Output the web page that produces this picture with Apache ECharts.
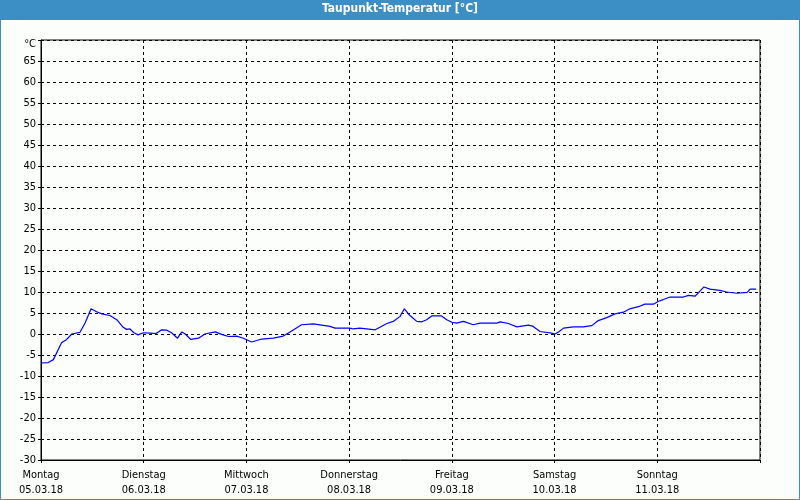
<!DOCTYPE html>
<html>
<head>
<meta charset="utf-8">
<script src="https://cdn.jsdelivr.net/npm/echarts@6/dist/echarts.min.js"></script>
<style>
html,body{margin:0;padding:0;background:#fcfefc;}
#c{width:800px;height:500px;}
</style>
</head>
<body>
<div id="c"></div>
<script>
const dayNames = ['Montag','Dienstag','Mittwoch','Donnerstag','Freitag','Samstag','Sonntag'];
const dayDates = ['05.03.18','06.03.18','07.03.18','08.03.18','09.03.18','10.03.18','11.03.18'];
const hours = [0,1.7,2.9,4.8,6.0,7.2,9.1,10.3,11.7,13.0,14.2,16.1,17.7,19.2,20.0,20.8,21.7,22.7,23.9,25.5,26.9,28.2,29.4,30.5,31.9,32.9,33.7,35.0,36.8,38.3,40.7,42.2,43.8,45.7,47.3,49.2,51.6,54.3,56.6,58.2,
  60.9,63.6,67.5,68.7,72.2,72.9,74.5,78.1,79.2,80.8,82.3,83.9,84.9,86.2,87.8,89.0,90.1,91.3,93.6,94.8,96.0,97.1,98.7,101.0,102.6,106.5,107.3,109.2,111.2,113.9,115.0,
  116.6,119.3,120.1,120.9,122.1,124.4,126.7,128.7,130.2,132.2,134.1,136.1,137.6,139.6,141.1,143.1,144.3,145.4,147.0,150.1,151.3,152.8,153.6,154.9,156.3,158.6,160.2,162.6,165.0,165.7,167.1];
const dewPoint = [-6.9,-6.8,-6.1,-2.1,-1.3,0,0.4,2.6,6.0,5.3,4.8,4.4,3.4,1.6,1.1,1.2,0.3,-0.2,0.3,0.2,0.1,1.0,0.9,0.3,-1.0,0.5,0,-1.3,-1.0,0,0.5,-0.1,-0.6,-0.5,-1.0,-1.9,-1.2,-1.0,-0.5,0.5,
  2.2,2.4,1.8,1.4,1.4,1.2,1.4,1.0,1.6,2.5,3.0,4.2,6.0,4.4,3.0,2.9,3.4,4.3,4.3,3.4,2.8,2.6,3.0,2.2,2.6,2.6,2.9,2.5,1.7,2.1,1.8,
  0.6,0.2,0,0.5,1.4,1.7,1.7,2.0,3.2,3.9,4.8,5.2,6.0,6.5,7.1,7.1,7.8,8.2,8.8,8.8,9.2,9.0,9.8,11.2,10.7,10.4,10.0,9.7,9.9,10.7,10.7];

const FONT = "'DejaVu Sans Condensed','DejaVu Sans',sans-serif";
const chart = echarts.init(document.getElementById('c'), null, {renderer:'canvas'});
chart.setOption({
  backgroundColor:'#fcfefc',
  animation:false,
  grid:{left:41,right:40,top:40,bottom:40,show:true,borderColor:'#000',borderWidth:1,backgroundColor:'transparent'},
  graphic:[
    {type:'rect',left:0,top:0,shape:{width:800,height:20},style:{fill:'#3b8fc4'},z:10},
    {type:'rect',shape:{x:0.5,y:0.5,width:799,height:499},style:{fill:null,stroke:'#3b8fc4',lineWidth:1},z:9},
    {type:'text',left:'center',top:3,style:{text:'Taupunkt-Temperatur [°C]',fill:'#fff',font:"bold 12px "+FONT},z:11}
  ],
  xAxis:{
    type:'value',min:0,max:168,interval:24,
    axisLine:{show:true,onZero:false,lineStyle:{color:'#000'}},
    axisTick:{show:true,length:3,lineStyle:{color:'#000'}},
    splitLine:{show:true,lineStyle:{color:'#000',type:[3,3],width:1}},
    axisLabel:{
      margin:8,color:'#000',fontSize:11,fontFamily:FONT,lineHeight:15,
      formatter:function(v){const i=Math.round(v/24); return i<dayNames.length? dayNames[i]+'\n'+dayDates[i] : '';}
    }
  },
  yAxis:{
    type:'value',min:-30,max:70,interval:5,
    axisLine:{show:true,onZero:false,lineStyle:{color:'#000'}},
    axisTick:{show:true,length:4,lineStyle:{color:'#000',type:[3,2]}},
    splitLine:{show:true,lineStyle:{color:'#000',type:[3,3],width:1}},
    axisLabel:{
      margin:5,color:'#000',fontSize:11,fontFamily:FONT,
      formatter:function(v){return v===70?'{u|°C}':String(v);},
      rich:{u:{fontSize:11,fontFamily:FONT,color:'#000',padding:[9,0,0,0]}}
    }
  },
  series:[{
    type:'line',
    data:hours.map((h,i)=>[h,dewPoint[i]]),
    showSymbol:false,
    lineStyle:{color:'#0000ff',width:1.2},
    itemStyle:{color:'#0000ff'}
  }]
});
</script>
</body>
</html>
